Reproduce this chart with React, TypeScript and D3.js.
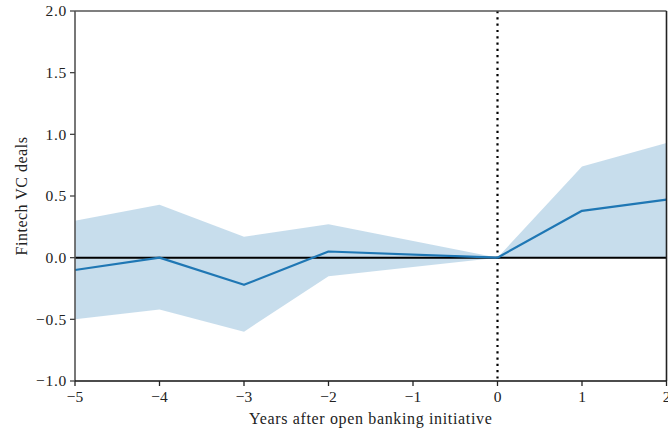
import React from 'react';
import * as d3 from 'd3';

// event-study estimates (year -1 omitted, year 0 is the reference)
const years = [-5, -4, -3, -2, 0, 1, 2];
const estimate = [-0.1, 0.0, -0.22, 0.05, 0.0, 0.38, 0.47];
const upper = [0.3, 0.43, 0.17, 0.27, 0.0, 0.74, 0.93];
const lower = [-0.5, -0.42, -0.6, -0.15, 0.0, 0.0, 0.0];

const xTicks = [-5, -4, -3, -2, -1, 0, 1, 2];
const yTicks = [-1.0, -0.5, 0.0, 0.5, 1.0, 1.5, 2.0];

const W = 668;
const H = 435;
const margin = { top: 11, right: 1, bottom: 54, left: 75 };
const FONT = '"Liberation Serif", "DejaVu Serif", serif';
const BLUE = '#1f77b4';

const fmtTick = (v: number) => (v < 0 ? '\u2212' + Math.abs(v) : String(v));
const fmtY = (v: number) => (v < 0 ? '\u2212' + Math.abs(v).toFixed(1) : v.toFixed(1));

export default function App() {
  const x = d3.scaleLinear().domain([-5, 2]).range([margin.left, W - margin.right - 0.5]);
  const y = d3.scaleLinear().domain([-1, 2]).range([H - margin.bottom, margin.top]);

  const rows = years.map((yr, i) => ({ yr, est: estimate[i], lo: lower[i], hi: upper[i] }));

  const band = d3.area<typeof rows[0]>()
    .x((d) => x(d.yr))
    .y0((d) => y(d.lo))
    .y1((d) => y(d.hi))(rows) || '';

  const line = d3.line<typeof rows[0]>()
    .x((d) => x(d.yr))
    .y((d) => y(d.est))(rows) || '';

  const x0 = margin.left;
  const x1 = W - margin.right - 0.5;
  const y0 = H - margin.bottom;
  const y1 = margin.top;

  return (
    <svg width={W} height={H} style={{ display: 'block', position: 'absolute', left: 0, top: 0 }}
      fontFamily={FONT}>
      <rect width={W} height={H} fill="white" />
      <path d={band} fill={BLUE} fillOpacity={0.25} stroke="none" />
      <line x1={x0} x2={x1} y1={y(0)} y2={y(0)} stroke="black" strokeWidth={2} />
      <line x1={x(0)} x2={x(0)} y1={y1} y2={y0} stroke="black" strokeWidth={2.2}
        strokeDasharray="2.2,4.1" />
      <path d={line} fill="none" stroke={BLUE} strokeWidth={2.2} strokeLinejoin="round" />

      {/* spines */}
      <line x1={x0} x2={x0} y1={y1} y2={y0} stroke="#555" strokeWidth={1.6} />
      <line x1={x0} x2={x1} y1={y1} y2={y1} stroke="#555" strokeWidth={1.6} />
      <line x1={x1} x2={x1} y1={y1} y2={y0} stroke="#222" strokeWidth={1.6} />
      <line x1={x0} x2={x1} y1={y0} y2={y0} stroke="#111" strokeWidth={1.6} />

      {yTicks.map((t) => (
        <g key={'y' + t}>
          <line x1={x0 - 5} x2={x0} y1={y(t)} y2={y(t)} stroke="#444" strokeWidth={1.3} />
          <text x={x0 - 8} y={y(t)} dy="0.35em" textAnchor="end" fontSize={15.5}
            letterSpacing={0.7} fill="#222">
            {fmtY(t)}
          </text>
        </g>
      ))}
      {xTicks.map((t) => (
        <g key={'x' + t}>
          <line x1={x(t)} x2={x(t)} y1={y0} y2={y0 + 5} stroke="#222" strokeWidth={1.3} />
          <text x={x(t)} y={y0 + 21} textAnchor="middle" fontSize={15.5} fill="#222">
            {fmtTick(t)}
          </text>
        </g>
      ))}

      <text x={(x0 + x1) / 2} y={424} textAnchor="middle" fontSize={16} letterSpacing={0.65}
        fill="#222">
        Years after open banking initiative
      </text>
      <text transform={`translate(27,${(y0 + y1) / 2}) rotate(-90)`} textAnchor="middle"
        fontSize={16} letterSpacing={0.5} fill="#222">
        Fintech VC deals
      </text>
    </svg>
  );
}
